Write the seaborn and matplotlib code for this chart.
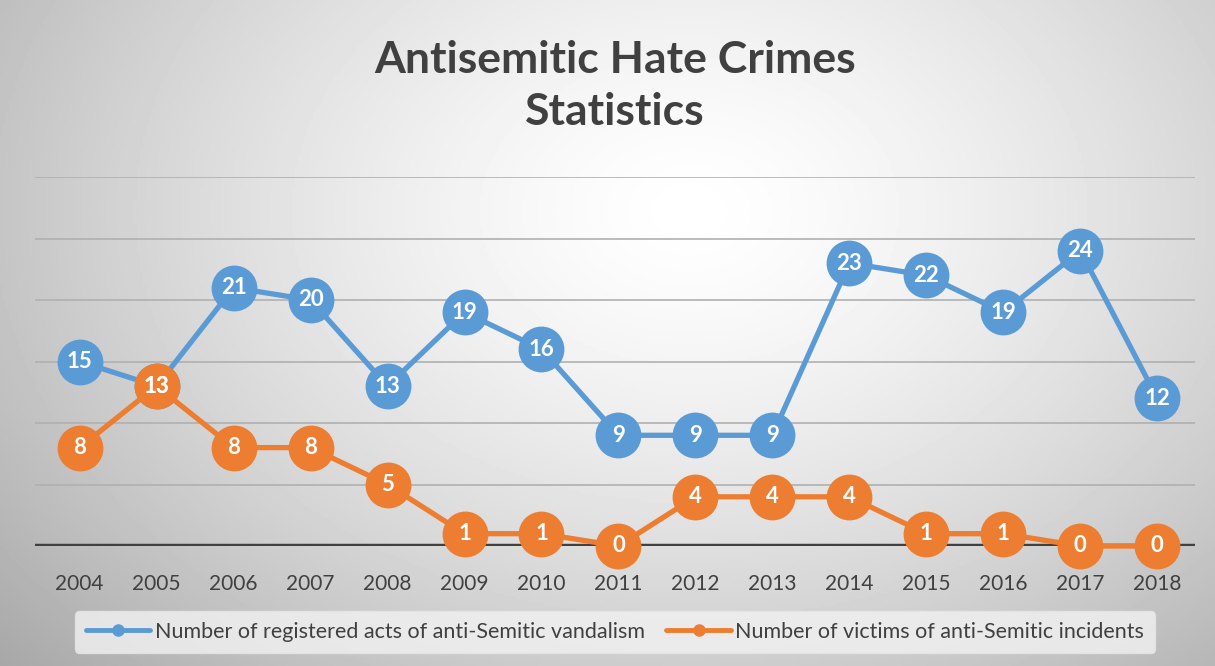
import numpy as np
import matplotlib
matplotlib.use("Agg")
import matplotlib.pyplot as plt
import seaborn as sns
from matplotlib.lines import Line2D

years = [2004, 2005, 2006, 2007, 2008, 2009, 2010, 2011, 2012, 2013, 2014, 2015, 2016, 2017, 2018]
vandalism = [15, 13, 21, 20, 13, 19, 16, 9, 9, 9, 23, 22, 19, 24, 12]
victims = [8, 13, 8, 8, 5, 1, 1, 0, 4, 4, 4, 1, 1, 0, 0]
labels = ["Number of registered acts of anti-Semitic vandalism",
          "Number of victims of anti-Semitic incidents"]
title = "Antisemitic Hate Crimes\nStatistics"

blue = "#5B9BD5"
orange = "#ED7D31"
text_col = "#404040"

sns.set_theme(style="white")
plt.rcParams['font.family'] = ['Lato', 'DejaVu Sans']

fig = plt.figure(figsize=(12.15, 6.66), dpi=100)

# radial gradient background
bg = fig.add_axes([0, 0, 1, 1], zorder=0)
gx, gy = np.meshgrid(np.linspace(0, 1215, 400), np.linspace(0, 666, 220))
r = np.sqrt(((gx - 690) / 760) ** 2 + ((gy - 210) / 560) ** 2)
shade = 1.0 - 0.26 * np.clip(r, 0, 1.3) ** 1.4
bg.imshow(shade, cmap="gray", vmin=0, vmax=1, extent=[0, 1215, 666, 0], aspect="auto")
bg.set_axis_off()

ax = fig.add_axes([35 / 1215, 1 - 546 / 666, 1160 / 1215, 369 / 666], zorder=1)
ax.patch.set_alpha(0)

for yv in range(5, 31, 5):
    ax.axhline(yv, color="#b0b0b0", lw=1.2, zorder=1)
ax.axhline(0, color="#404040", lw=3.2, zorder=2)

series = [(vandalism, blue), (victims, orange)]
for vals, col in series:
    sns.lineplot(x=years, y=vals, ax=ax, color=col, lw=3.8, marker="o",
                 markersize=33, markeredgewidth=0, zorder=3, clip_on=False)
    for x, y in zip(years, vals):
        ax.text(x, y, str(y), color="white", fontsize=16, fontweight="bold",
                ha="center", va="center", zorder=4)

ax.set_xlim(2003.42, 2018.49)
ax.set_ylim(0, 30)
ax.set_yticks([])
ax.set_xticks(years)
ax.set_xticklabels([str(y) for y in years], fontsize=15, color=text_col)
ax.tick_params(axis="x", length=0, pad=20)
for s in ax.spines.values():
    s.set_visible(False)

fig.text(615 / 1215, 1 - 86 / 666, title, ha="center", va="center", fontsize=32,
         fontweight="bold", color=text_col, linespacing=1.35)

handles = [Line2D([0], [0], color=blue, lw=3.5, marker="o", markersize=8),
           Line2D([0], [0], color=orange, lw=3.5, marker="o", markersize=8)]
leg = fig.legend(handles, labels, loc="center", bbox_to_anchor=(615 / 1215, 1 - 632 / 666),
                 ncol=2, fontsize=15.5, frameon=True, handlelength=3.0, columnspacing=1.0,
                 handletextpad=0.2, borderpad=0.5)
leg.get_frame().set_facecolor("#f2f2f2")
leg.get_frame().set_edgecolor("#e6e6e6")
leg.get_frame().set_alpha(0.8)
for t in leg.get_texts():
    t.set_color(text_col)

fig.savefig("out.png", dpi=100)
